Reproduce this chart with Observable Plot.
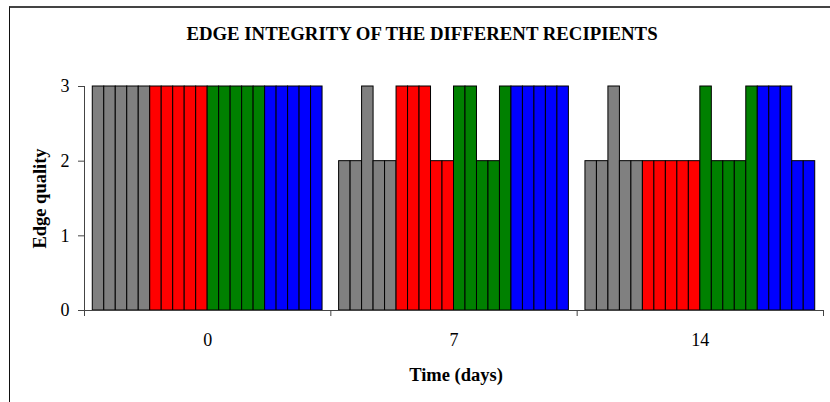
<!DOCTYPE html>
<html><head><meta charset="utf-8">
<script src="https://cdn.jsdelivr.net/npm/d3@7"></script>
<script src="https://cdn.jsdelivr.net/npm/@observablehq/plot@0.6"></script>
<style>
body{margin:0;background:#fff;}
#wrap{position:relative;width:830px;height:402px;overflow:hidden;font-family:"Liberation Serif","Times New Roman",serif;}
#frame{position:absolute;left:9px;top:6px;width:900px;height:500px;border-left:1.5px solid #111;border-top:2px solid #444;box-sizing:border-box;}
#title{position:absolute;left:0;top:24px;width:844px;text-align:center;font-weight:bold;font-size:18.8px;line-height:19px;color:#000;}
#chart{position:absolute;left:0;top:0;}
</style></head><body>
<div id="wrap"><div id="frame"></div><div id="chart"></div><div id="title"></div></div>
<script>
const title = "EDGE INTEGRITY OF THE DIFFERENT RECIPIENTS";
const xLabel = "Time (days)";
const yLabel = "Edge quality";
const days = ["0", "7", "14"];
const recipientColors = ["#808080", "#ff0000", "#008000", "#0000ff"];
const barsPerRecipient = 5;
const day0 = [3,3,3,3,3, 3,3,3,3,3, 3,3,3,3,3, 3,3,3,3,3];
const day7 = [2,2,3,2,2, 3,3,3,2,2, 3,3,2,2,3, 3,3,3,3,3];
const day14 = [2,2,3,2,2, 2,2,2,2,2, 3,2,2,2,3, 3,3,3,2,2];
const yTicks = [0, 1, 2, 3];

document.getElementById("title").textContent = title;

const series = [day0, day7, day14];
const groupPad = 0.0336;
const nBars = day0.length;
const barW = (1 - 2 * groupPad) / nBars;
const data = [];
series.forEach((vals, g) => vals.forEach((v, i) => {
  data.push({g, i, value: v, color: recipientColors[Math.floor(i / barsPerRecipient)],
    x1: g + groupPad + i * barW, x2: g + groupPad + (i + 1) * barW});
}));

const chart = Plot.plot({
  width: 830, height: 402,
  marginLeft: 84, marginRight: 7, marginTop: 86, marginBottom: 92,
  style: {fontFamily: '"Liberation Serif","Times New Roman",serif', fontSize: "18px", background: "transparent", color: "#000"},
  x: {domain: [0, days.length], axis: null},
  y: {domain: [0, 3], axis: null},
  marks: [
    Plot.rect(data, {x1: "x1", x2: "x2", y1: 0, y2: "value", fill: "color", stroke: "#000", strokeWidth: 1}),
    Plot.ruleX([0], {y1: 0, y2: 3, stroke: "#444"}),
    Plot.ruleY([0], {stroke: "#444"}),
    Plot.axisY({ticks: yTicks, tickSize: 6, tickPadding: 9, tickFormat: d3.format("d"), stroke: "#444", fill: "#000", fontSize: 18, label: null}),
    Plot.axisX({ticks: d3.range(days.length + 1), tickSize: 6, tickFormat: () => "", stroke: "#444", label: null}),
    Plot.axisX({ticks: days.map((d, k) => k + 0.5), tickSize: 0, tickPadding: 23, tickFormat: v => days[Math.floor(v)], fill: "#000", fontSize: 18, label: null}),
    Plot.text([xLabel], {frameAnchor: "bottom", dy: 70, dx: 2, lineAnchor: "bottom", textAnchor: "middle", fontWeight: "bold", fontSize: 18.5, fill: "#000"}),
    Plot.text([yLabel], {frameAnchor: "left", dx: -44, rotate: -90, textAnchor: "middle", lineAnchor: "middle", fontWeight: "bold", fontSize: 18.5, fill: "#000"})
  ]
});
document.getElementById("chart").appendChild(chart);
</script>
</body></html>
